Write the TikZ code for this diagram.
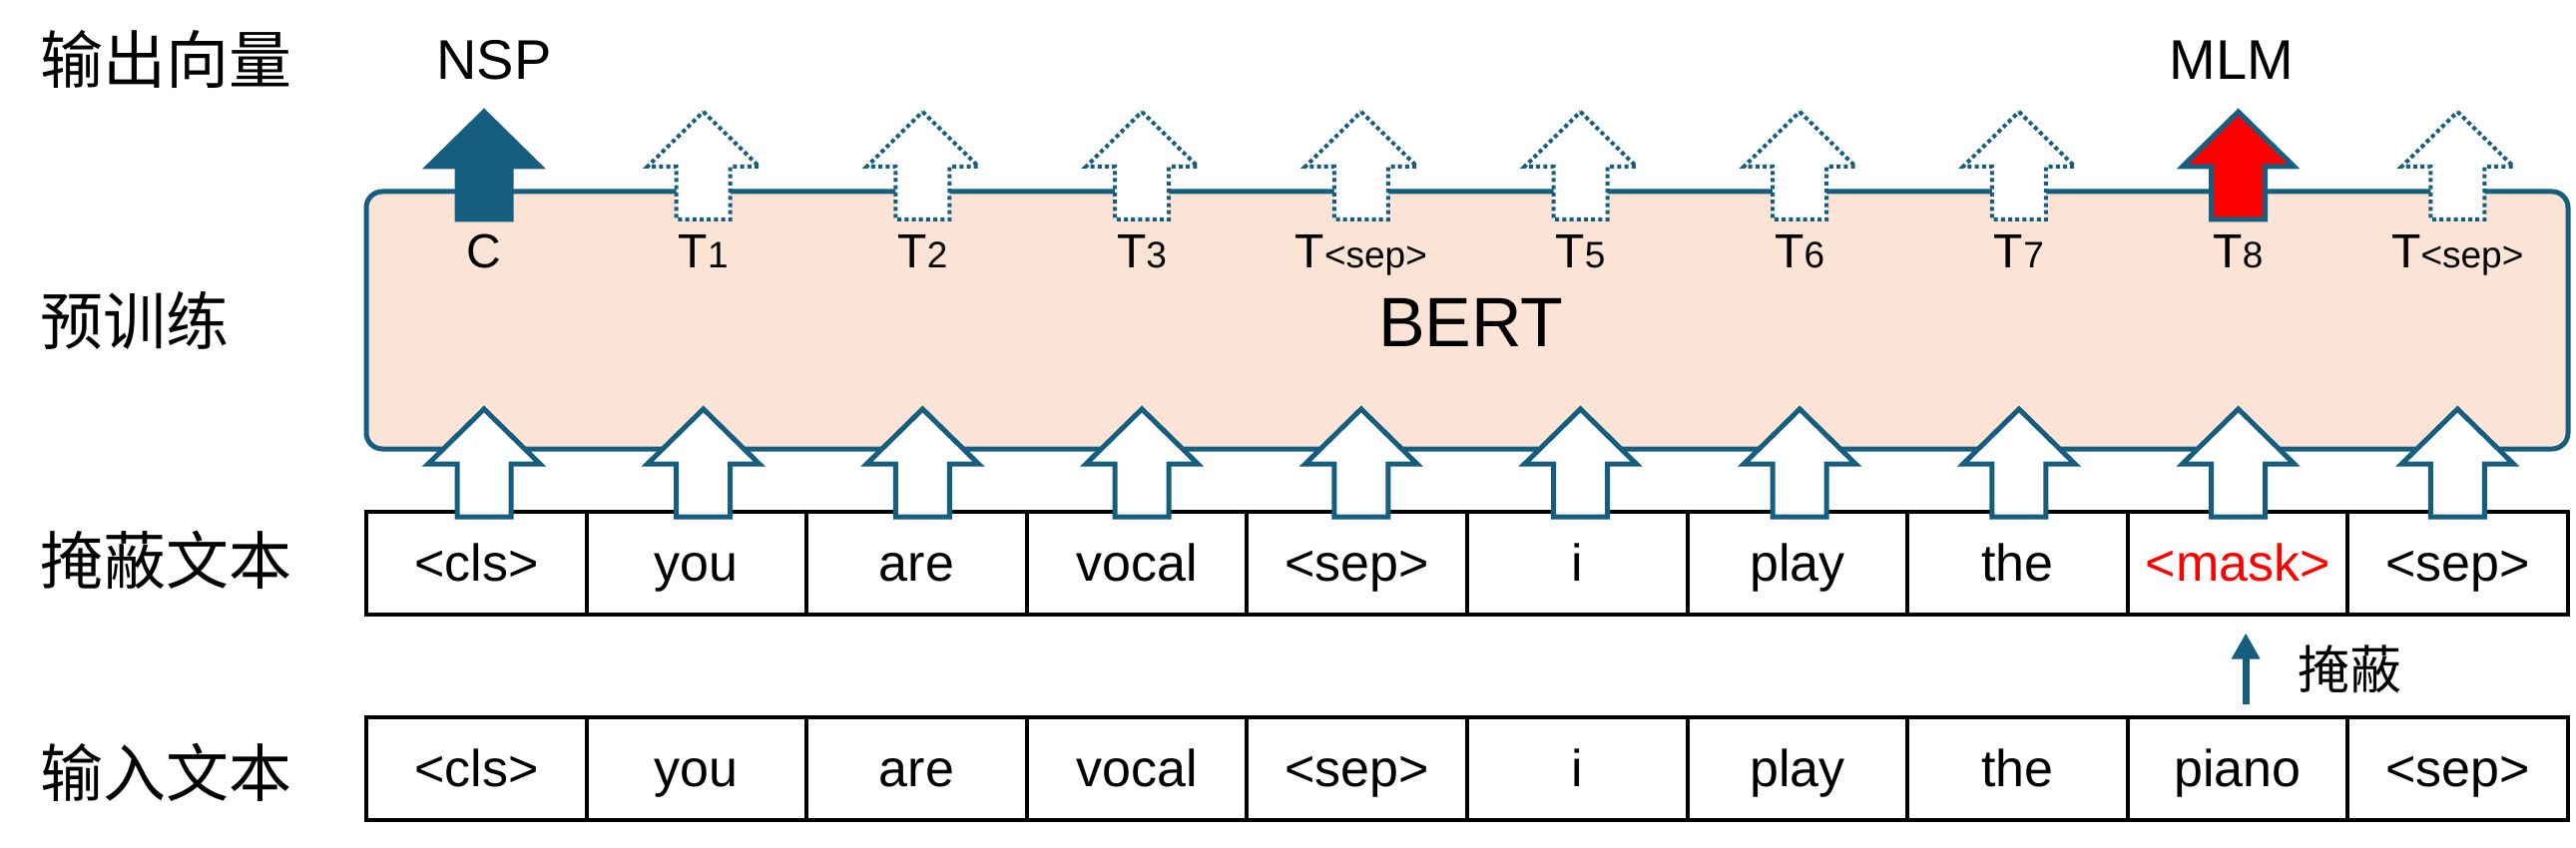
\documentclass[tikz,border=0pt]{standalone}
\usepackage{fontspec}
\setmainfont{Liberation Sans}
\newfontfamily\cjk{Noto Sans CJK SC}
\usetikzlibrary{arrows.meta}
\definecolor{teal1}{RGB}{22,94,128}
\definecolor{peach}{HTML}{FBE3D6}
\definecolor{maskred}{HTML}{FF0000}
\newcommand\tsub[1]{{\fontsize{18.5}{18.5}\selectfont #1}}
\tikzset{
  blk/.pic={\path[pic actions] (0,0) -- (56,55) -- (27,55) -- (27,108) -- (-27,108) -- (-27,55) -- (-56,55) -- cycle;},
  outdot/.style={draw=teal1, fill=white, line width=2pt, dash pattern=on 2pt off 1.6pt, line join=miter},
  outsolid/.style={draw=teal1, fill=teal1, line width=2.5pt, line join=miter},
  outred/.style={draw=teal1, fill=maskred, line width=2.5pt, line join=miter},
  inarrow/.style={draw=teal1, fill=white, line width=2.5pt, line join=miter},
  bertbox/.style={draw=teal1, fill=peach, line width=2.5pt, rounded corners=8pt},
  cell/.style={draw=black, line width=2pt, minimum width=110.3pt, minimum height=51.5pt, inner sep=0pt, text height=18.6pt, text depth=0pt, font=\fontsize{26}{26}\selectfont},
  rowlabel/.style={anchor=west, inner sep=0pt, text height=26.1pt, text depth=2.2pt, font=\cjk\fontsize{31.5}{31.5}\selectfont},
  masklabel/.style={inner sep=0pt, text height=21.6pt, text depth=1.8pt, font=\cjk\fontsize{26}{26}\selectfont},
  tlabel/.style={anchor=base, inner sep=0pt, font=\fontsize{24}{24}\selectfont},
  task/.style={anchor=base, inner sep=0pt, font=\fontsize{28}{28}\selectfont},
  bertlabel/.style={anchor=base, inner sep=0pt, font=\fontsize{35}{35}\selectfont},
  maskarr/.style={draw=teal1, line width=3.5pt, -{Triangle[width=13.5pt,length=13pt]}},
}
\begin{document}
\begin{tikzpicture}[x=0.5pt,y=-0.5pt]
\useasboundingbox (0,0) rectangle (2581,850);
% BERT box
\draw[bertbox] (367,192) rectangle (2573,450);
% token rows
\foreach \w [count=\i from 0] in {<cls>,you,are,vocal,<sep>,i,play,the,\textcolor{maskred}{<mask>},<sep>}
  \node[cell] (m\i) at ({477.3+220.6*\i},564) {\w};
\foreach \w [count=\i from 0] in {<cls>,you,are,vocal,<sep>,i,play,the,piano,<sep>}
  \node[cell] (in\i) at ({477.3+220.6*\i},770) {\w};
% input block arrows
\foreach \i in {0,...,9}
  \pic[inarrow] (ia\i) at ({485+219.7*\i},410) {blk};
% output block arrows
\foreach \i/\s in {0/outsolid,1/outdot,2/outdot,3/outdot,4/outdot,5/outdot,6/outdot,7/outdot,8/outred,9/outdot}
  \pic[\s] (oa\i) at ({485+219.7*\i},112) {blk};
% output labels
\foreach \t [count=\i from 0] in {C,T\tsub{1},T\tsub{2},T\tsub{3},T\tsub{<sep>},T\tsub{5},T\tsub{6},T\tsub{7},T\tsub{8},T\tsub{<sep>}}
  \node[tlabel] (t\i) at ({485+219.7*\i},269) {\t};
\node[bertlabel] (bert) at (1474,348) {BERT};
\node[task] (nsp) at (495,80) {NSP};
\node[task] (mlm) at (2236,80) {MLM};
% row labels
\node[rowlabel] (l1) at (40,60) {输出向量};
\node[rowlabel] (l2) at (40,322) {预训练};
\node[rowlabel] (l3) at (40,562) {掩蔽文本};
\node[rowlabel] (l4) at (40,775) {输入文本};
% masking arrow
\draw[maskarr] ([xshift=4pt,yshift=5.5pt]in8.north) -- ([xshift=4pt,yshift=-8.5pt]m8.south);
\node[masklabel] (mk) at (2354,671) {掩蔽};
\end{tikzpicture}
\end{document}
